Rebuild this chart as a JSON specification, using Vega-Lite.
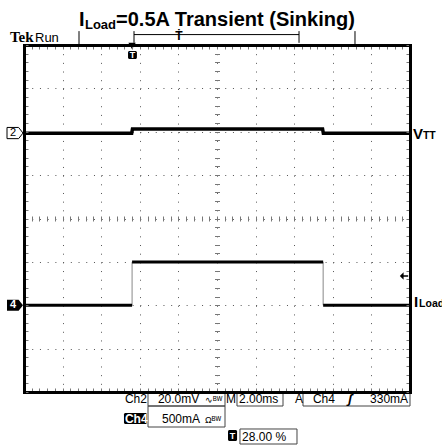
{
  "$schema": "https://vega.github.io/schema/vega-lite/v6.json",
  "width": 386,
  "height": 347,
  "autosize": {"type": "none"},
  "padding": {"left": 24, "top": 45, "right": 32, "bottom": 54},
  "background": "white",
  "config": {"view": {"stroke": null}, "font": "Liberation Sans"},
  "datasets": {
    "frame": [{"t": 0, "d": 0}],
    "ch2": [
      {"t": 0, "mv": -0.7}, {"t": 5.58, "mv": -0.7}, {"t": 5.62, "mv": 1.25},
      {"t": 15.47, "mv": 1.25}, {"t": 15.51, "mv": -0.7}, {"t": 20, "mv": -0.7}
    ],
    "ch4": [
      {"t": 0, "ma": 0, "seg": "low1"}, {"t": 5.6, "ma": 0, "seg": "low1"},
      {"t": 5.6, "ma": 500, "seg": "high"}, {"t": 15.5, "ma": 500, "seg": "high"},
      {"t": 15.5, "ma": 0, "seg": "low2"}, {"t": 20, "ma": 0, "seg": "low2"}
    ],
    "ch4edges": [{"t": 5.6, "lo": 0, "hi": 500}, {"t": 15.5, "lo": 0, "hi": 500}],
    "topbar": [
      {"t": 2.85, "t2": 2.85, "d": 8.32, "d2": 8.02},
      {"t": 17.15, "t2": 17.15, "d": 8.32, "d2": 8.02},
      {"t": 5.7, "t2": 5.7, "d": 8.32, "d2": 8.05},
      {"t": 14.25, "t2": 14.25, "d": 8.32, "d2": 8.05},
      {"t": 5.7, "t2": 14.25, "d": 8.24, "d2": 8.24}
    ],
    "boxes": [
      {"t": 6.425, "t2": 10.415, "d": -0.023, "d2": -0.323},
      {"t": 11.036, "t2": 13.42, "d": -0.023, "d2": -0.323},
      {"t": 14.456, "t2": 20.0, "d": -0.023, "d2": -0.323},
      {"t": 6.425, "t2": 10.415, "d": -0.323, "d2": -0.807},
      {"t": 11.19, "t2": 14.145, "d": -0.853, "d2": -1.199}
    ],
    "blackfills": [
      {"t": 5.18, "t2": 6.37, "d": -0.484, "d2": -0.738},
      {"t": 10.57, "t2": 11.04, "d": -0.876, "d2": -1.13},
      {"t": 5.39, "t2": 5.85, "d": 7.86, "d2": 7.68}
    ],
    "titleBig": [
      {"s": "I", "t": 2.85, "d": 8.438},
      {"s": "=0.5A Transient (Sinking)", "t": 4.77, "d": 8.438}
    ],
    "titleSub": [{"s": "Load", "t": 3.16, "d": 8.369}],
    "tek": [{"s": "Tek", "t": -0.73, "d": 8.069}],
    "run": [{"s": "Run", "t": 0.57, "d": 8.069}],
    "readouts": [
      {"s": "Ch2", "t": 5.23, "d": -0.254},
      {"s": "20.0mV", "t": 6.94, "d": -0.254},
      {"s": "M", "t": 10.47, "d": -0.254},
      {"s": "2.00ms", "t": 11.14, "d": -0.254},
      {"s": "A", "t": 14.04, "d": -0.254},
      {"s": "Ch4", "t": 14.97, "d": -0.254},
      {"s": "330mA", "t": 17.93, "d": -0.254},
      {"s": "500mA", "t": 7.15, "d": -0.715},
      {"s": "28.00 %", "t": 11.3, "d": -1.13}
    ],
    "smallsym": [
      {"s": "∿ᴮᵂ", "t": 9.38, "d": -0.254},
      {"s": "Ωᴮᵂ", "t": 9.38, "d": -0.715}
    ],
    "slope": [{"s": "ʃ", "t": 16.79, "d": -0.254}],
    "inverse": [{"s": "Ch4", "t": 5.23, "d": -0.715}],
    "badgeT": [{"s": "T", "t": 10.805, "d": -1.003}, {"s": "T", "t": 5.62, "d": 7.77}],
    "rightBig": [{"s": "V", "t": 20.16, "d": 5.833}, {"s": "I", "t": 20.21, "d": 1.96}],
    "rightSmall": [{"s": "TT", "t": 20.67, "d": 5.833}, {"s": "Load", "t": 20.47, "d": 1.96}],
    "mark2": [{"s": "2", "t": -0.57, "d": 5.97}],
    "mark4": [{"s": "4", "t": -0.57, "d": 2.0}],
    "markers": [{"t": -0.466, "d": 5.97, "ch": "2"}],
    "markers4": [{"t": -0.466, "d": 2.0, "ch": "4"}],
    "trig": [{"t": 5.6, "d": 7.975}],
    "trigLevel": [{"t": 19.69, "d": 2.674}],
    "recT": [{"s": "Ṫ", "t": 8.03, "d": 8.2}]
  },
  "resolve": {
    "scale": {"y": "independent"},
    "axis": {"x": "independent", "y": "independent"}
  },
  "layer": [
    {
      "data": {"name": "frame"},
      "mark": {"type": "point", "opacity": 0},
      "encoding": {
        "x": {"field": "t", "type": "quantitative", "scale": {"domain": [0, 20]},
          "axis": {"orient": "bottom", "values": [2, 4, 6, 8, 10, 12, 14, 16, 18], "grid": true,
            "gridDash": [1, 7.675], "gridColor": "#555", "gridWidth": 1, "gridOpacity": 1,
            "ticks": false, "labels": false, "domain": false, "title": null, "zindex": 0}},
        "y": {"field": "d", "type": "quantitative", "scale": {"domain": [0, 8]},
          "axis": {"orient": "left", "values": [1, 2, 3, 4, 5, 6, 7], "grid": true,
            "gridDash": [1, 6.72], "gridColor": "#555", "gridWidth": 1, "gridOpacity": 1,
            "ticks": false, "labels": false, "domain": false, "title": null, "zindex": 0}}
      }
    },
    {
      "data": {"name": "frame"},
      "mark": {"type": "point", "opacity": 0},
      "encoding": {
        "x": {"field": "t", "type": "quantitative", "scale": {"domain": [0, 20]},
          "axis": {"orient": "bottom", "offset": -176, "values": [0,0.4,0.8,1.2,1.6,2,2.4,2.8,3.2,3.6,4,4.4,4.8,5.2,5.6,6,6.4,6.8,7.2,7.6,8,8.4,8.8,9.2,9.6,10,10.4,10.8,11.2,11.6,12,12.4,12.8,13.2,13.6,14,14.4,14.8,15.2,15.6,16,16.4,16.8,17.2,17.6,18,18.4,18.8,19.2,19.6,20],
            "grid": false, "ticks": true, "tickSize": 5, "tickColor": "#777", "tickWidth": 1,
            "labels": false, "domain": false, "title": null, "zindex": 0}},
        "y": {"field": "d", "type": "quantitative", "scale": {"domain": [0, 8]},
          "axis": {"orient": "left", "offset": -195.5, "values": [0,0.2,0.4,0.6,0.8,1,1.2,1.4,1.6,1.8,2,2.2,2.4,2.6,2.8,3,3.2,3.4,3.6,3.8,4,4.2,4.4,4.6,4.8,5,5.2,5.4,5.6,5.8,6,6.2,6.4,6.6,6.8,7,7.2,7.4,7.6,7.8,8],
            "grid": false, "ticks": true, "tickSize": 5, "tickColor": "#777", "tickWidth": 1,
            "labels": false, "domain": false, "title": null, "zindex": 0}}
      }
    },
    {
      "data": {"name": "ch2"},
      "mark": {"type": "line", "color": "black", "strokeWidth": 3.5, "interpolate": "linear"},
      "encoding": {
        "x": {"field": "t", "type": "quantitative", "scale": {"domain": [0, 20]}, "axis": null},
        "y": {"field": "mv", "type": "quantitative", "scale": {"domain": [-120, 40]}, "axis": null}
      }
    },
    {
      "data": {"name": "ch4edges"},
      "mark": {"type": "rule", "color": "#888", "strokeWidth": 1},
      "encoding": {
        "x": {"field": "t", "type": "quantitative", "scale": {"domain": [0, 20]}, "axis": null},
        "y": {"field": "lo", "type": "quantitative", "scale": {"domain": [-1000, 3000]}, "axis": null},
        "y2": {"field": "hi"}
      }
    },
    {
      "data": {"name": "ch4"},
      "mark": {"type": "line", "color": "black", "strokeWidth": 3},
      "encoding": {
        "x": {"field": "t", "type": "quantitative", "scale": {"domain": [0, 20]}, "axis": null},
        "y": {"field": "ma", "type": "quantitative", "scale": {"domain": [-1000, 3000]}, "axis": null},
        "detail": {"field": "seg"}
      }
    },
    {
      "data": {"name": "frame"},
      "mark": {"type": "point", "opacity": 0},
      "encoding": {
        "x": {"field": "t", "type": "quantitative", "scale": {"domain": [0, 20]},
          "axis": {"orient": "bottom", "values": [0,0.4,0.8,1.2,1.6,2,2.4,2.8,3.2,3.6,4,4.4,4.8,5.2,5.6,6,6.4,6.8,7.2,7.6,8,8.4,8.8,9.2,9.6,10,10.4,10.8,11.2,11.6,12,12.4,12.8,13.2,13.6,14,14.4,14.8,15.2,15.6,16,16.4,16.8,17.2,17.6,18,18.4,18.8,19.2,19.6,20],
            "grid": false, "ticks": true, "tickSize": -4, "tickColor": "#777", "tickWidth": 1,
            "labels": false, "domain": true, "domainColor": "black", "domainWidth": 3, "domainCap": "square",
            "title": null, "zindex": 2}},
        "y": {"field": "d", "type": "quantitative", "scale": {"domain": [0, 8]},
          "axis": {"orient": "left", "values": [0,0.2,0.4,0.6,0.8,1,1.2,1.4,1.6,1.8,2,2.2,2.4,2.6,2.8,3,3.2,3.4,3.6,3.8,4,4.2,4.4,4.6,4.8,5,5.2,5.4,5.6,5.8,6,6.2,6.4,6.6,6.8,7,7.2,7.4,7.6,7.8,8],
            "grid": false, "ticks": true, "tickSize": -4, "tickColor": "#777", "tickWidth": 1,
            "labels": false, "domain": true, "domainColor": "black", "domainWidth": 3, "domainCap": "square",
            "title": null, "zindex": 2}}
      }
    },
    {
      "data": {"name": "frame"},
      "mark": {"type": "point", "opacity": 0},
      "encoding": {
        "x": {"field": "t", "type": "quantitative", "scale": {"domain": [0, 20]},
          "axis": {"orient": "top", "values": [0,0.4,0.8,1.2,1.6,2,2.4,2.8,3.2,3.6,4,4.4,4.8,5.2,5.6,6,6.4,6.8,7.2,7.6,8,8.4,8.8,9.2,9.6,10,10.4,10.8,11.2,11.6,12,12.4,12.8,13.2,13.6,14,14.4,14.8,15.2,15.6,16,16.4,16.8,17.2,17.6,18,18.4,18.8,19.2,19.6,20],
            "grid": false, "ticks": true, "tickSize": -4, "tickColor": "#777", "tickWidth": 1,
            "labels": false, "domain": true, "domainColor": "black", "domainWidth": 3, "domainCap": "square",
            "title": null, "zindex": 2}},
        "y": {"field": "d", "type": "quantitative", "scale": {"domain": [0, 8]},
          "axis": {"orient": "right", "values": [0,0.2,0.4,0.6,0.8,1,1.2,1.4,1.6,1.8,2,2.2,2.4,2.6,2.8,3,3.2,3.4,3.6,3.8,4,4.2,4.4,4.6,4.8,5,5.2,5.4,5.6,5.8,6,6.2,6.4,6.6,6.8,7,7.2,7.4,7.6,7.8,8],
            "grid": false, "ticks": true, "tickSize": -4, "tickColor": "#777", "tickWidth": 1,
            "labels": false, "domain": true, "domainColor": "black", "domainWidth": 3, "domainCap": "square",
            "title": null, "zindex": 2}}
      }
    },
    {
      "data": {"name": "topbar"},
      "mark": {"type": "rule", "color": "black", "strokeWidth": 1},
      "encoding": {
        "x": {"field": "t", "type": "quantitative", "scale": {"domain": [0, 20]}, "axis": null},
        "x2": {"field": "t2"},
        "y": {"field": "d", "type": "quantitative", "scale": {"domain": [0, 8]}, "axis": null},
        "y2": {"field": "d2"}
      }
    },
    {
      "data": {"name": "boxes"},
      "mark": {"type": "rect", "fill": null, "stroke": "#444", "strokeWidth": 1},
      "encoding": {
        "x": {"field": "t", "type": "quantitative", "scale": {"domain": [0, 20]}, "axis": null},
        "x2": {"field": "t2"},
        "y": {"field": "d", "type": "quantitative", "scale": {"domain": [0, 8]}, "axis": null},
        "y2": {"field": "d2"}
      }
    },
    {
      "data": {"name": "blackfills"},
      "mark": {"type": "rect", "fill": "black", "cornerRadius": 1.5},
      "encoding": {
        "x": {"field": "t", "type": "quantitative", "scale": {"domain": [0, 20]}, "axis": null},
        "x2": {"field": "t2"},
        "y": {"field": "d", "type": "quantitative", "scale": {"domain": [0, 8]}, "axis": null},
        "y2": {"field": "d2"}
      }
    },
    {
      "data": {"name": "trig"},
      "mark": {"type": "point", "shape": "triangle-down", "filled": true, "color": "black", "size": 55, "opacity": 1},
      "encoding": {
        "x": {"field": "t", "type": "quantitative", "scale": {"domain": [0, 20]}, "axis": null},
        "y": {"field": "d", "type": "quantitative", "scale": {"domain": [0, 8]}, "axis": null}
      }
    },
    {
      "data": {"name": "trigLevel"},
      "mark": {"type": "point", "shape": "M-1,0L-0.1,-0.9L-0.1,-0.2L1,-0.2L1,0.2L-0.1,0.2L-0.1,0.9Z", "filled": true, "color": "black", "size": 70, "opacity": 1},
      "encoding": {
        "x": {"field": "t", "type": "quantitative", "scale": {"domain": [0, 20]}, "axis": null},
        "y": {"field": "d", "type": "quantitative", "scale": {"domain": [0, 8]}, "axis": null}
      }
    },
    {
      "data": {"name": "markers"},
      "mark": {"type": "point", "shape": "M-1,-0.7L0.45,-0.7L1,0L0.45,0.7L-1,0.7Z", "filled": true, "fill": "white", "stroke": "black", "strokeWidth": 1, "size": 256, "opacity": 1},
      "encoding": {
        "x": {"field": "t", "type": "quantitative", "scale": {"domain": [0, 20]}, "axis": null},
        "y": {"field": "d", "type": "quantitative", "scale": {"domain": [0, 8]}, "axis": null}
      }
    },
    {
      "data": {"name": "markers4"},
      "mark": {"type": "point", "shape": "M-1,-0.7L0.45,-0.7L1,0L0.45,0.7L-1,0.7Z", "filled": true, "color": "black", "size": 256, "opacity": 1},
      "encoding": {
        "x": {"field": "t", "type": "quantitative", "scale": {"domain": [0, 20]}, "axis": null},
        "y": {"field": "d", "type": "quantitative", "scale": {"domain": [0, 8]}, "axis": null}
      }
    },
    {
      "data": {"name": "titleBig"},
      "mark": {"type": "text", "align": "left", "baseline": "alphabetic", "fontSize": 20, "fontWeight": "bold", "color": "black"},
      "encoding": {
        "x": {"field": "t", "type": "quantitative", "scale": {"domain": [0, 20]}, "axis": null},
        "y": {"field": "d", "type": "quantitative", "scale": {"domain": [0, 8]}, "axis": null},
        "text": {"field": "s"}
      }
    },
    {
      "data": {"name": "titleSub"},
      "mark": {"type": "text", "align": "left", "baseline": "alphabetic", "fontSize": 13, "fontWeight": "bold", "color": "black"},
      "encoding": {
        "x": {"field": "t", "type": "quantitative", "scale": {"domain": [0, 20]}, "axis": null},
        "y": {"field": "d", "type": "quantitative", "scale": {"domain": [0, 8]}, "axis": null},
        "text": {"field": "s"}
      }
    },
    {
      "data": {"name": "tek"},
      "mark": {"type": "text", "align": "left", "baseline": "alphabetic", "fontSize": 15, "fontWeight": "bold", "font": "Liberation Serif", "color": "black"},
      "encoding": {
        "x": {"field": "t", "type": "quantitative", "scale": {"domain": [0, 20]}, "axis": null},
        "y": {"field": "d", "type": "quantitative", "scale": {"domain": [0, 8]}, "axis": null},
        "text": {"field": "s"}
      }
    },
    {
      "data": {"name": "run"},
      "mark": {"type": "text", "align": "left", "baseline": "alphabetic", "fontSize": 13, "color": "black"},
      "encoding": {
        "x": {"field": "t", "type": "quantitative", "scale": {"domain": [0, 20]}, "axis": null},
        "y": {"field": "d", "type": "quantitative", "scale": {"domain": [0, 8]}, "axis": null},
        "text": {"field": "s"}
      }
    },
    {
      "data": {"name": "readouts"},
      "mark": {"type": "text", "align": "left", "baseline": "alphabetic", "fontSize": 12, "color": "black"},
      "encoding": {
        "x": {"field": "t", "type": "quantitative", "scale": {"domain": [0, 20]}, "axis": null},
        "y": {"field": "d", "type": "quantitative", "scale": {"domain": [0, 8]}, "axis": null},
        "text": {"field": "s"}
      }
    },
    {
      "data": {"name": "smallsym"},
      "mark": {"type": "text", "align": "left", "baseline": "alphabetic", "fontSize": 9, "color": "black"},
      "encoding": {
        "x": {"field": "t", "type": "quantitative", "scale": {"domain": [0, 20]}, "axis": null},
        "y": {"field": "d", "type": "quantitative", "scale": {"domain": [0, 8]}, "axis": null},
        "text": {"field": "s"}
      }
    },
    {
      "data": {"name": "slope"},
      "mark": {"type": "text", "align": "left", "baseline": "alphabetic", "fontSize": 13, "fontWeight": "bold", "fontStyle": "italic", "color": "black"},
      "encoding": {
        "x": {"field": "t", "type": "quantitative", "scale": {"domain": [0, 20]}, "axis": null},
        "y": {"field": "d", "type": "quantitative", "scale": {"domain": [0, 8]}, "axis": null},
        "text": {"field": "s"}
      }
    },
    {
      "data": {"name": "inverse"},
      "mark": {"type": "text", "align": "left", "baseline": "alphabetic", "fontSize": 12, "fontWeight": "bold", "color": "white"},
      "encoding": {
        "x": {"field": "t", "type": "quantitative", "scale": {"domain": [0, 20]}, "axis": null},
        "y": {"field": "d", "type": "quantitative", "scale": {"domain": [0, 8]}, "axis": null},
        "text": {"field": "s"}
      }
    },
    {
      "data": {"name": "badgeT"},
      "mark": {"type": "text", "align": "center", "baseline": "middle", "fontSize": 9, "fontWeight": "bold", "color": "white"},
      "encoding": {
        "x": {"field": "t", "type": "quantitative", "scale": {"domain": [0, 20]}, "axis": null},
        "y": {"field": "d", "type": "quantitative", "scale": {"domain": [0, 8]}, "axis": null},
        "text": {"field": "s"}
      }
    },
    {
      "data": {"name": "recT"},
      "mark": {"type": "text", "align": "center", "baseline": "middle", "fontSize": 12, "fontWeight": "bold", "color": "black"},
      "encoding": {
        "x": {"field": "t", "type": "quantitative", "scale": {"domain": [0, 20]}, "axis": null},
        "y": {"field": "d", "type": "quantitative", "scale": {"domain": [0, 8]}, "axis": null},
        "text": {"field": "s"}
      }
    },
    {
      "data": {"name": "rightBig"},
      "mark": {"type": "text", "align": "left", "baseline": "alphabetic", "fontSize": 15, "fontWeight": "bold", "color": "black"},
      "encoding": {
        "x": {"field": "t", "type": "quantitative", "scale": {"domain": [0, 20]}, "axis": null},
        "y": {"field": "d", "type": "quantitative", "scale": {"domain": [0, 8]}, "axis": null},
        "text": {"field": "s"}
      }
    },
    {
      "data": {"name": "rightSmall"},
      "mark": {"type": "text", "align": "left", "baseline": "alphabetic", "fontSize": 10.5, "fontWeight": "bold", "color": "black"},
      "encoding": {
        "x": {"field": "t", "type": "quantitative", "scale": {"domain": [0, 20]}, "axis": null},
        "y": {"field": "d", "type": "quantitative", "scale": {"domain": [0, 8]}, "axis": null},
        "text": {"field": "s"}
      }
    },
    {
      "data": {"name": "mark2"},
      "mark": {"type": "text", "align": "center", "baseline": "middle", "fontSize": 11, "color": "black"},
      "encoding": {
        "x": {"field": "t", "type": "quantitative", "scale": {"domain": [0, 20]}, "axis": null},
        "y": {"field": "d", "type": "quantitative", "scale": {"domain": [0, 8]}, "axis": null},
        "text": {"field": "s"}
      }
    },
    {
      "data": {"name": "mark4"},
      "mark": {"type": "text", "align": "center", "baseline": "middle", "fontSize": 11, "fontWeight": "bold", "color": "white"},
      "encoding": {
        "x": {"field": "t", "type": "quantitative", "scale": {"domain": [0, 20]}, "axis": null},
        "y": {"field": "d", "type": "quantitative", "scale": {"domain": [0, 8]}, "axis": null},
        "text": {"field": "s"}
      }
    }
  ]
}
